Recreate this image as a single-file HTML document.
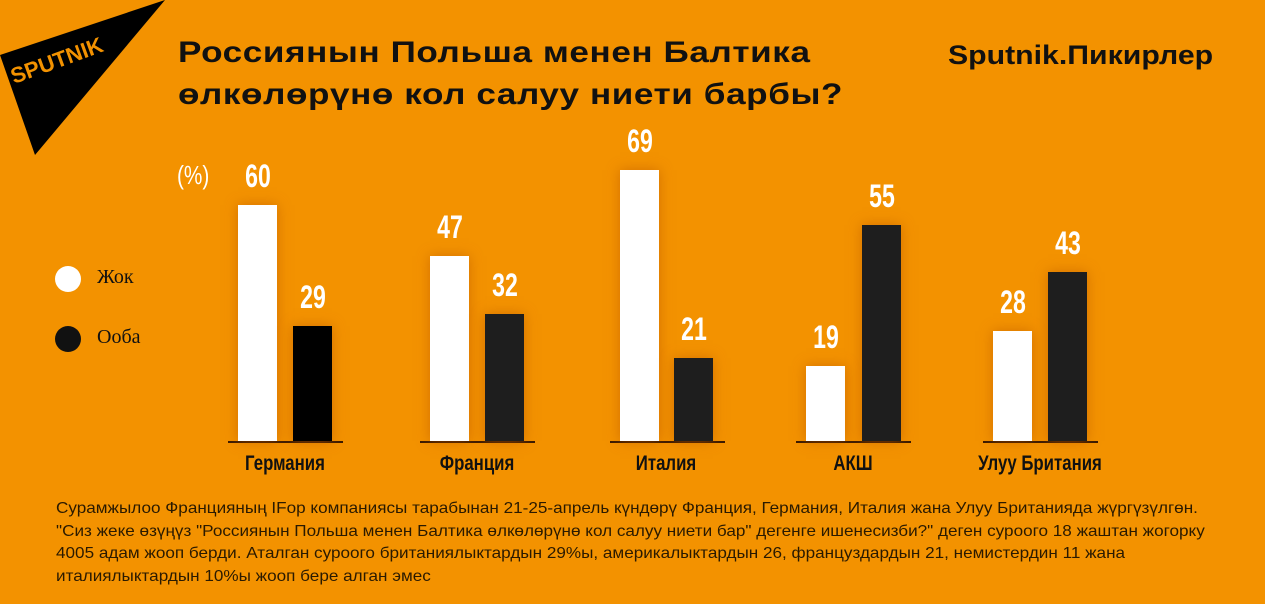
<!DOCTYPE html>
<html><head><meta charset="utf-8"><style>
body{margin:0;width:1265px;height:604px;background:#f39200;position:relative;overflow:hidden;font-family:"Liberation Sans","DejaVu Sans",sans-serif}
.a{position:absolute}
.t{font-weight:bold;font-size:30px;color:#111;left:178px;letter-spacing:0.5px;white-space:nowrap;transform-origin:0 0;transform:scaleX(1.17)}
.bar{position:absolute;width:39px;box-shadow:0 0 12px rgba(190,90,0,0.6)}
.w{background:#fff}.k{background:#1e1e1e}
.n{position:absolute;width:80px;text-align:center;color:#fff;font-weight:bold;font-size:32px;transform:scaleX(0.72);}
.c{position:absolute;width:200px;text-align:center;color:#111;font-weight:bold;font-size:21px;transform:scaleX(0.8)}
.base{position:absolute;height:2px;background:#3a1a00;top:441px;width:115px}
.f{position:absolute;left:56px;font-size:16px;color:#2a1a00;white-space:nowrap;transform-origin:0 0;transform:scaleX(1.07)}
</style></head><body>
<svg class="a" style="left:0;top:0" width="170" height="160"><polygon points="0,55 165,0 35,155" fill="#000"/><text x="14" y="84" transform="rotate(-20 14 84)" fill="#f39200" font-family="Liberation Sans" font-weight="bold" font-size="22">SPUTNIK</text></svg>
<div class="a t" style="top:36px">Россиянын Польша менен Балтика</div>
<div class="a t" style="top:78px">өлкөлөрүнө кол салуу ниети барбы?</div>
<div class="a" style="left:948px;top:40px;font-weight:bold;font-size:27px;color:#111;white-space:nowrap;transform-origin:0 0;transform:scaleX(1.12)">Sputnik.Пикирлер</div>
<div class="a" style="left:177px;top:160px;color:#fff;font-size:26px;transform:scaleX(0.8);transform-origin:0 0">(%)</div>
<div class="a" style="left:55px;top:266px;width:26px;height:26px;border-radius:50%;background:#fff"></div>
<div class="a" style="left:97px;top:266px;font-size:20px;color:#111;font-family:'Liberation Serif',serif">Жок</div>
<div class="a" style="left:55px;top:326px;width:26px;height:26px;border-radius:50%;background:#111"></div>
<div class="a" style="left:97px;top:326px;font-size:20px;color:#111;font-family:'Liberation Serif',serif">Ооба</div>

<div class="base" style="left:228px"></div>
<div class="bar w" style="left:238px;top:205px;height:236px"></div>
<div class="bar k" style="left:293px;top:326px;height:115px;background:#000"></div>
<div class="n" style="left:218px;top:158px">60</div><div class="n" style="left:273px;top:279px">29</div>
<div class="c" style="left:185px;top:452px">Германия</div>

<div class="base" style="left:420px"></div>
<div class="bar w" style="left:430px;top:256px;height:185px"></div>
<div class="bar k" style="left:485px;top:314px;height:127px"></div>
<div class="n" style="left:410px;top:209px">47</div><div class="n" style="left:465px;top:267px">32</div>
<div class="c" style="left:377px;top:452px">Франция</div>

<div class="base" style="left:610px"></div>
<div class="bar w" style="left:620px;top:170px;height:271px"></div>
<div class="bar k" style="left:674px;top:358px;height:83px"></div>
<div class="n" style="left:600px;top:123px">69</div><div class="n" style="left:654px;top:311px">21</div>
<div class="c" style="left:566px;top:452px">Италия</div>

<div class="base" style="left:796px"></div>
<div class="bar w" style="left:806px;top:366px;height:75px"></div>
<div class="bar k" style="left:862px;top:225px;height:216px"></div>
<div class="n" style="left:786px;top:319px">19</div><div class="n" style="left:842px;top:178px">55</div>
<div class="c" style="left:753px;top:452px">АКШ</div>

<div class="base" style="left:983px"></div>
<div class="bar w" style="left:993px;top:331px;height:110px"></div>
<div class="bar k" style="left:1048px;top:272px;height:169px"></div>
<div class="n" style="left:973px;top:284px">28</div><div class="n" style="left:1028px;top:225px">43</div>
<div class="c" style="left:940px;top:452px">Улуу Британия</div>

<div class="f" style="top:500px">Сурамжылоо Францияның IFop компаниясы тарабынан 21-25-апрель күндөрү Франция, Германия, Италия жана Улуу Британияда жүргүзүлгөн.</div>
<div class="f" style="top:523px">"Сиз жеке өзүңүз "Россиянын Польша менен Балтика өлкөлөрүнө кол салуу ниети бар" дегенге ишенесизби?" деген суроого 18 жаштан жогорку</div>
<div class="f" style="top:545px">4005 адам жооп берди. Аталган суроого британиялыктардын 29%ы, америкалыктардын 26, француздардын 21, немистердин 11 жана</div>
<div class="f" style="top:568px">италиялыктардын 10%ы жооп бере алган эмес</div>
</body></html>
